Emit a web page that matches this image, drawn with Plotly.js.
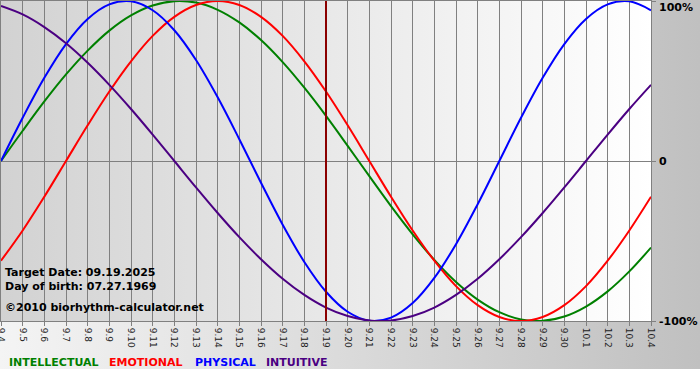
<!DOCTYPE html>
<html><head><meta charset="utf-8">
<script src="https://cdn.plot.ly/plotly-3.0.1.min.js"></script>
<style>
html,body{margin:0;padding:0;background:#fff;}
#wrap{position:relative;width:700px;height:380px;overflow:hidden;
 background: linear-gradient(to right,#f4f4f4,#c0c0c0) 0 0/700px 369px no-repeat, #ffffff;}
#plotbg{position:absolute;left:1px;top:1px;width:650px;height:320px;background:linear-gradient(to right,#d2d2d2,#ffffff);}
#chart{position:absolute;left:0;top:0;width:700px;height:380px;}
</style></head><body>
<div id="wrap"><div id="plotbg"></div><div id="chart"></div></div>
<script>
// Dates (month.day), 09.04.2025 - 10.04.2025
const dates = ["9.4","9.5","9.6","9.7","9.8","9.9","9.10","9.11","9.12","9.13","9.14","9.15","9.16","9.17","9.18","9.19","9.20","9.21","9.22","9.23","9.24","9.25","9.26","9.27","9.28","9.29","9.30","10.1","10.2","10.3","10.4"];

// Values in percent
const intellectual = [0,18.9,37.2,54.1,69.0,81.5,91.0,97.2,99.9,99.0,94.5,86.6,75.6,61.8,45.8,28.2,9.5,-9.5,-28.2,-45.8,-61.8,-75.6,-86.6,-94.5,-99.0,-99.9,-97.2,-91.0,-81.5,-69.0,-54.1];
const emotional = [-62.3,-43.4,-22.3,0,22.3,43.4,62.3,78.2,90.1,97.5,100,97.5,90.1,78.2,62.3,43.4,22.3,0,-22.3,-43.4,-62.3,-78.2,-90.1,-97.5,-100,-97.5,-90.1,-78.2,-62.3,-43.4,-22.3];
const physical = [0,27.0,52.0,73.1,88.8,97.9,99.8,94.2,81.7,63.1,39.8,13.6,-13.6,-39.8,-63.1,-81.7,-94.2,-99.8,-97.9,-88.8,-73.1,-52.0,-27.0,0,27.0,52.0,73.1,88.8,97.9,99.8,94.2];
const intuitive = [96.9,91.6,83.7,73.6,61.4,47.6,32.5,16.5,0,-16.5,-32.5,-47.6,-61.4,-73.6,-83.7,-91.6,-96.9,-99.7,-99.7,-96.9,-91.6,-83.7,-73.6,-61.4,-47.6,-32.5,-16.5,0,16.5,32.5,47.6];

const seriesNames = ["INTELLECTUAL","EMOTIONAL","PHYSICAL","INTUITIVE"];
const seriesColors = ["#008000","#ff0000","#0000ff","#4b0082"];
const yTickVals = [100,0,-100];
const yTickText = ["100%","0","-100%"];
const targetDate = "9.19";
const infoLines = ["Target Date: 09.19.2025","Day of birth: 07.27.1969","©2010 biorhythm-calculator.net"];

const seriesData = [intellectual, emotional, physical, intuitive];
const traces = seriesData.map((vals, i) => ({
  type: "scatter", mode: "lines", x: dates, y: vals, name: seriesNames[i],
  line: {color: seriesColors[i], width: 2, shape: "spline", smoothing: 1},
  hoverinfo: "skip"
}));

const L = 1, W = 650, T = 1, H = 320;
const px = v => (v - L) / W;
const py = v => 1 - (v - T) / H;
const bold = "DejaVu Sans";

const annotations = [];
// y labels
yTickVals.forEach((v, i) => {
  annotations.push({xref: "paper", yref: "y", x: 1, y: v, xanchor: "left", yanchor: "middle",
    xshift: 6, yshift: (i === 0 ? -6 : 0), text: "<b>" + yTickText[i] + "</b>", showarrow: false,
    font: {family: bold, size: 11, color: "#000"}});
});
// info text
const infoY = [272, 286, 307];
infoLines.forEach((t, i) => {
  annotations.push({xref: "paper", yref: "paper", x: px(3), y: py(infoY[i]), xanchor: "left", yanchor: "middle",
    text: "<b>" + t + "</b>", showarrow: false, font: {family: bold, size: 11, color: "#000"}});
});
// legend text
const legX = [7, 107, 193, 264];
seriesNames.forEach((n, i) => {
  annotations.push({xref: "paper", yref: "paper", x: px(legX[i]), y: py(362), xanchor: "left", yanchor: "middle",
    text: "<b>" + n + "</b>", showarrow: false, font: {family: bold, size: 11, color: seriesColors[i]}});
});

const targetIndex = dates.indexOf(targetDate);

const layout = {
  width: 700, height: 380,
  margin: {l: L, r: 700 - L - W, t: T, b: 380 - T - H, pad: 0},
  paper_bgcolor: "rgba(0,0,0,0)", plot_bgcolor: "rgba(0,0,0,0)",
  showlegend: false,
  xaxis: {type: "category", range: [0, dates.length - 1], showgrid: true, gridcolor: "#808080", gridwidth: 1,
    showline: true, linecolor: "#808080", linewidth: 1, mirror: true,
    ticks: "outside", ticklen: 4, tickcolor: "#808080", tickangle: 90,
    tickfont: {family: "DejaVu Sans", size: 9, color: "#222"}, zeroline: false, fixedrange: true},
  yaxis: {range: [-100, 100], tickvals: yTickVals, showticklabels: false, side: "right",
    showgrid: true, gridcolor: "#808080", gridwidth: 1, zeroline: false,
    showline: true, linecolor: "#808080", linewidth: 1, mirror: true,
    ticks: "outside", ticklen: 4, tickcolor: "#808080", fixedrange: true},
  shapes: [{type: "line", xref: "x", yref: "paper", x0: targetIndex, x1: targetIndex, y0: 0, y1: 1,
    line: {color: "#8b0000", width: 2}, layer: "above"}],
  annotations: annotations
};

Plotly.newPlot("chart", traces, layout, {displayModeBar: false, staticPlot: true});
</script>
</body></html>
